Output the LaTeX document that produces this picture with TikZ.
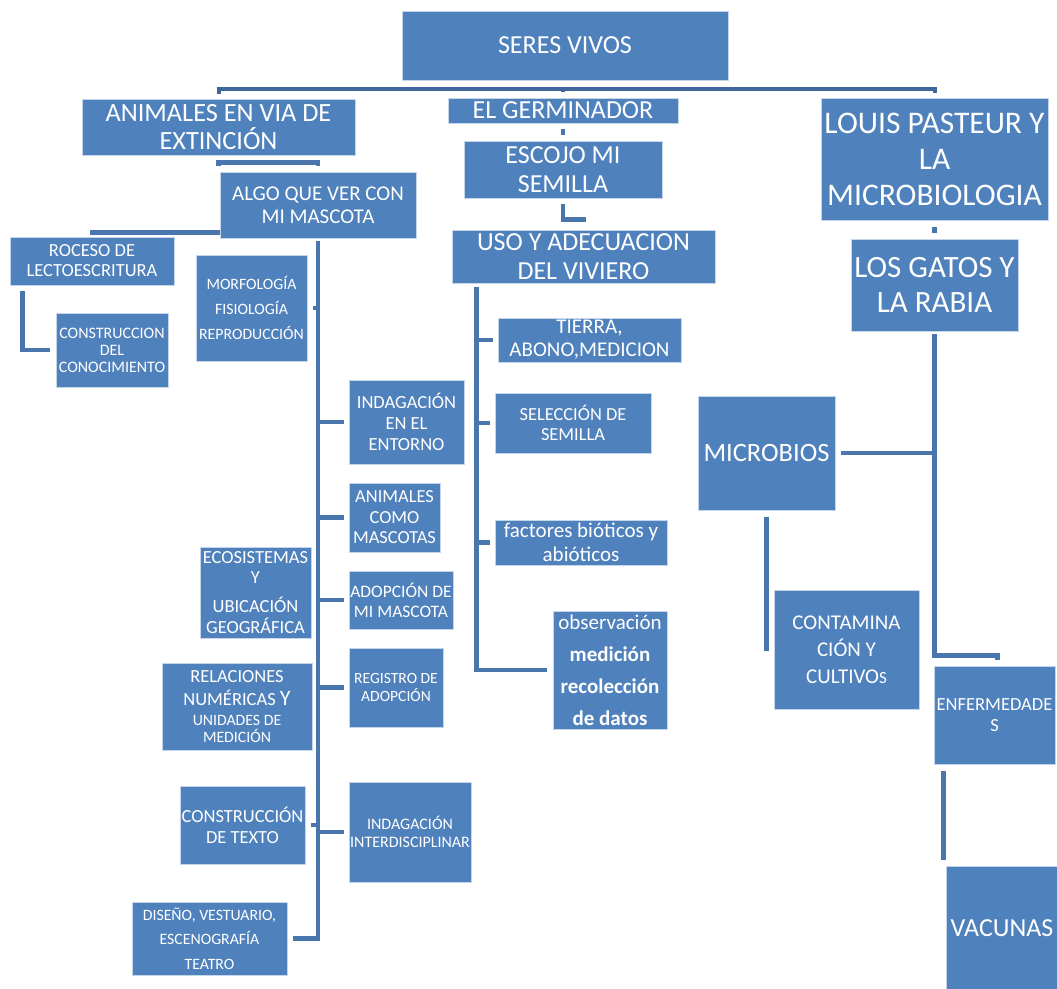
\documentclass[tikz,border=0pt]{standalone}
\usepackage{fontspec}
\setmainfont{Carlito}
\definecolor{boxblue}{HTML}{4F81BD}
\definecolor{edgeblue}{HTML}{C5D5EA}
\definecolor{linkblue}{HTML}{4A76AE}
\definecolor{barblue}{HTML}{3F659B}
\tikzset{
  box/.style={fill=boxblue, draw=edgeblue, line width=0.8pt, text=white, align=center, inner sep=0pt},
  conn/.style={draw=linkblue, line width=4.5pt},
  topbar/.style={draw=barblue, line width=4pt},
}
\newcommand\fs[2]{\fontsize{#1}{#2}\selectfont}
\newcommand\mybox[7]{\node[box,minimum width={(#4)-(#2)},minimum height={(#5)-(#3)},font={#6}] (#1) at ({((#2)+(#4))/2},{((#3)+(#5))/2}) {#7};}
\begin{document}
\begin{tikzpicture}[x=1pt,y=-1pt]
\fill[white] (0,0) rectangle (1057,988);
\useasboundingbox (0,0) rectangle (1057,988);
% boxes
\mybox{seres}{402}{11}{728}{80}{\fs{26}{28}}{SERES VIVOS}
\mybox{anim}{82}{99}{355}{155}{\fs{26.3}{28}}{ANIMALES EN VIA DE\\EXTINCIÓN}
\mybox{germ}{448}{98}{678}{123}{\fs{26}{28}}{EL GERMINADOR}
\mybox{escojo}{464}{141}{662}{198}{\fs{26}{29}}{ESCOJO MI\\SEMILLA}
\mybox{uso}{452}{230}{715}{283}{\fs{26}{29.5}}{USO Y ADECUACION\\DEL VIVIERO}
\mybox{louis}{821}{98}{1048}{220}{\fs{31.5}{36}}{LOUIS PASTEUR Y\\LA\\MICROBIOLOGIA}
\mybox{gatos}{851}{239}{1018}{331}{\fs{31}{35}}{LOS GATOS Y\\LA RABIA}
\mybox{algo}{220}{172}{416}{238}{\fs{21}{23}}{ALGO QUE VER CON\\MI MASCOTA}
\mybox{roceso}{10}{237}{174}{285}{\fs{18.5}{20}}{ROCESO DE\\LECTOESCRITURA}
\mybox{conoc}{56}{313}{168}{387}{\fs{16}{17}}{CONSTRUCCION\\DEL\\CONOCIMIENTO}
\mybox{morf}{196}{255}{307}{361}{\fs{15.8}{25}}{MORFOLOGÍA\\FISIOLOGÍA\\REPRODUCCIÓN}
\mybox{indag}{349}{380}{464}{464}{\fs{18.5}{21}}{INDAGACIÓN\\EN EL\\ENTORNO}
\mybox{masc}{349}{483}{440}{552}{\fs{18.4}{20.5}}{ANIMALES\\COMO\\MASCOTAS}
\mybox{eco}{200}{547}{311}{638}{\fs{18.5}{20.5}}{ECOSISTEMAS\\Y\\[8.5pt]UBICACIÓN\\GEOGRÁFICA}
\mybox{adop}{349}{571}{453}{629}{\fs{17.5}{20}}{ADOPCIÓN DE\\MI MASCOTA}
\mybox{rel}{162}{663}{312}{750}{\fs{18.5}{20}}{RELACIONES\\[3pt]NUMÉRICAS {\fs{22}{20}Y}\\{\fs{15.8}{17}UNIDADES DE}\\[-3pt]{\fs{15.8}{17}MEDICIÓN}}
\mybox{reg}{349}{648}{443}{727}{\fs{15.6}{18}}{REGISTRO DE\\ADOPCIÓN}
\mybox{texto}{180}{786}{305}{864}{\fs{18.5}{21}}{CONSTRUCCIÓN\\DE TEXTO}
\mybox{inter}{349}{782}{471}{882}{\fs{16}{18}}{INDAGACIÓN\\INTERDISCIPLINAR}
\mybox{diseno}{132}{902}{287}{975}{\fs{15.8}{24.5}}{DISEÑO, VESTUARIO,\\ESCENOGRAFÍA\\TEATRO}
\mybox{tierra}{498}{318}{681}{362}{\fs{21}{23}}{TIERRA,\\ABONO,MEDICION}
\mybox{selec}{495}{393}{651}{453}{\fs{18.4}{20}}{SELECCIÓN DE\\SEMILLA}
\mybox{fact}{495}{520}{667}{565}{\fs{21}{24}}{factores bióticos y\\abióticos}
\mybox{obs}{553}{611}{667}{729}{\fs{21}{32}}{observación\\\textbf{medición}\\\textbf{recolección}\\\textbf{de datos}}
\mybox{micro}{698}{396}{835}{510}{\fs{26.5}{30}}{MICROBIOS}
\mybox{contam}{774}{590}{919}{709}{\fs{21}{27}}{CONTAMINA\\CIÓN Y\\CULTIVO{\fs{17}{27}S}}
\mybox{enf}{934}{666}{1055}{764}{\fs{18.5}{21}}{ENFERMEDADE\\S}
\mybox{vac}{946}{866}{1058}{990}{\fs{26}{30}}{VACUNAS}
% connectors
\draw[topbar] ([yshift=5]anim.north) -- ([yshift=10]anim.north) -| ([yshift=5]louis.north);
\draw[topbar] ([yshift=10]germ.north) -- ([yshift=6]germ.north);
\draw[conn] ([yshift=-11]anim.south) -- ([yshift=-7]anim.south) -| ([yshift=6]algo.north);
\draw[conn] ([yshift=6]algo.south west) -| ([yshift=2]roceso.north);
\draw[conn] ([xshift=13,yshift=-6]roceso.south west) |- ([xshift=-6]conoc.west);
\draw[conn] ([yshift=-3]algo.south) |- ([xshift=6]diseno.east);
\draw[conn] (algo.south |- morf.east) -- ([xshift=6]morf.east);
\draw[conn] (algo.south |- texto.east) -- ([xshift=6]texto.east);
\foreach \n in {indag,masc,adop,reg,inter}
  \draw[conn] (algo.south |- \n.west) -- ([xshift=-5]\n.west);
\draw[conn] ([yshift=-6]germ.south) -- ([yshift=6]escojo.north);
\draw[conn] ([yshift=-6]escojo.south) |- ([xshift=2,yshift=10]uso.north);
\coordinate (usoV) at ([xshift=25]uso.south west);
\draw[conn] ([yshift=-4]usoV) |- ([xshift=-6]obs.west);
\foreach \n in {tierra,selec,fact}
  \draw[conn] (usoV |- \n.west) -- ([xshift=-5]\n.west);
\draw[conn] ([yshift=-7]louis.south) -- ([yshift=6]gatos.north);
\draw[conn] ([yshift=-3]gatos.south) |- ([xshift=3,yshift=10]enf.north) -- ([xshift=3,yshift=6]enf.north);
\draw[conn] ([xshift=6]micro.east) -- (gatos.south |- micro.east);
\draw[conn] ([yshift=-7]micro.south) -- ([yshift=-141]micro.south);
\draw[conn] ([xshift=10,yshift=-7]enf.south west) -- ([xshift=-2,yshift=6]vac.north west);
\end{tikzpicture}
\end{document}
